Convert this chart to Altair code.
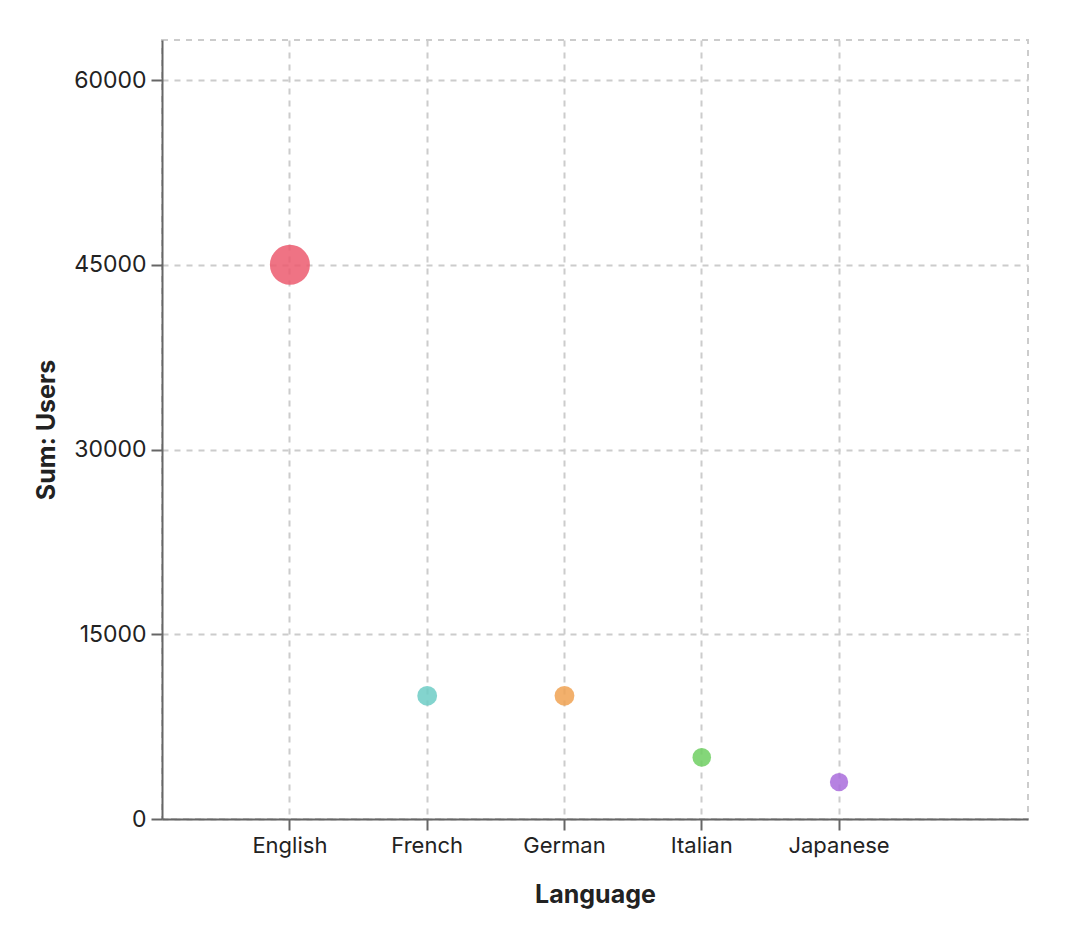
import pandas as pd
import altair as alt

font = "Inter"

languages = ["English", "French", "German", "Italian", "Japanese"]
users = [45000, 10000, 10000, 5000, 3000]
colors = ["#ec5a6e", "#6dcdc5", "#f0a252", "#6fcf62", "#a96cdc"]

df = pd.DataFrame({"Language": languages, "Users": users})

chart = alt.Chart(df).mark_circle(opacity=0.85).encode(
    x=alt.X("Language:N",
            scale=alt.Scale(type="band", paddingInner=0, paddingOuter=0.654, align=0.33),
            axis=alt.Axis(labelAngle=0, titlePadding=26, grid=True, bandPosition=0.5)),
    y=alt.Y("sum(Users):Q", title="Sum: Users",
            scale=alt.Scale(domain=[0, 63250], nice=False),
            axis=alt.Axis(values=[0, 15000, 30000, 45000, 60000], format="d",
                          labelFontSize=23, titlePadding=14)),
    color=alt.Color("Language:N", legend=None,
                    scale=alt.Scale(domain=languages, range=colors)),
    size=alt.Size("sum(Users):Q", legend=None,
                  scale=alt.Scale(type="pow", exponent=2, domain=[0, 45000], range=[330, 1600])),
).properties(
    width=866,
    height=779,
    autosize=alt.AutoSizeParams(type="none"),
    padding={"left": 154, "top": 32, "right": 52, "bottom": 115},
).configure_view(
    stroke="#cccccc", strokeWidth=2, strokeDash=[6, 6]
).configure_axis(
    labelFont=font, titleFont=font,
    labelFontSize=22, titleFontSize=25, labelColor="#222222", titleColor="#222222",
    titleFontWeight="bold",
    domainColor="#666666", domainWidth=2,
    tickColor="#666666", tickWidth=2, tickSize=11,
    labelPadding=5,
    gridColor="#cccccc", gridWidth=2, gridDash=[6, 6],
)

chart.save("out.html", embed_options={"renderer": "svg", "actions": False})
